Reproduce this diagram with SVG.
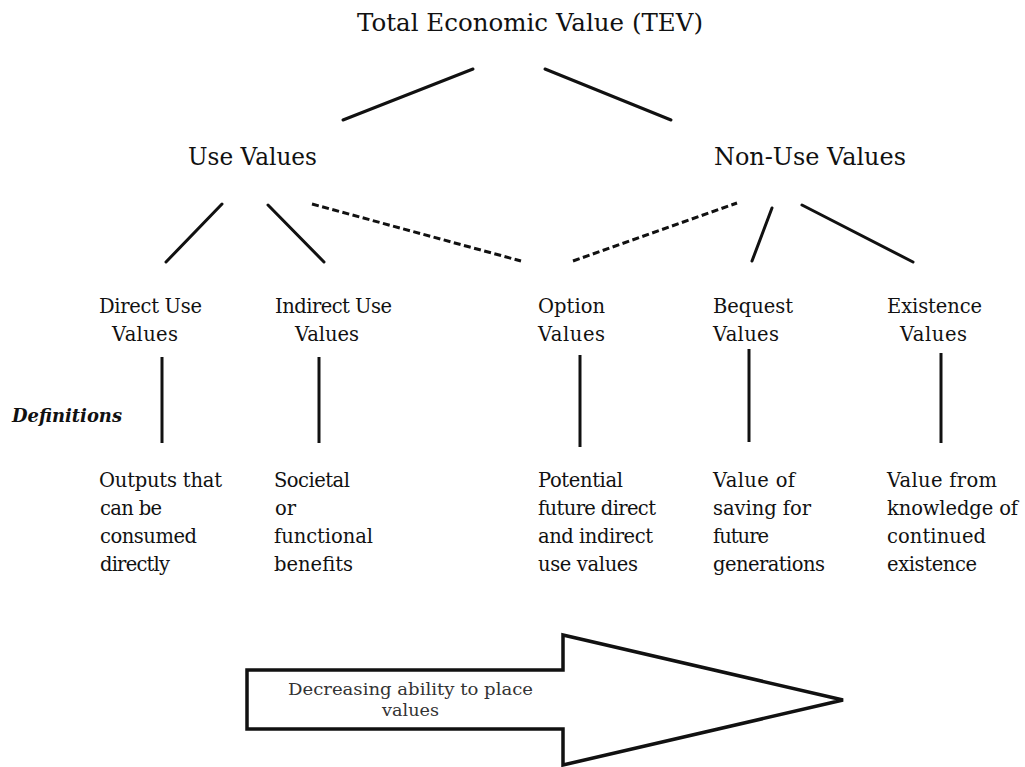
<svg xmlns="http://www.w3.org/2000/svg" width="1025" height="767" viewBox="0 0 1025 767">
  <style>
    text { font-family: "DejaVu Serif", "Liberation Serif", serif; fill: #111; }
    .big { font-size: 25px; }
    .mid { font-size: 19.5px; }
    .def { font-size: 19px; font-weight: bold; font-style: italic; }
    .note { font-size: 17.5px; fill: #333; }
    .solid { stroke: #111; stroke-width: 3; stroke-linecap: round; fill: none; }
    .dash { stroke: #111; stroke-width: 3; stroke-dasharray: 7 3.5; fill: none; }
    .stem { stroke: #111; stroke-width: 3; fill: none; }
  </style>

  <rect x="0" y="0" width="1025" height="767" fill="#ffffff"/>

  <!-- tree connectors -->
  <g id="connectors">
    <line class="solid" x1="343" y1="120" x2="473" y2="69"/>
    <line class="solid" x1="545" y1="69" x2="671" y2="120"/>
    <line class="solid" x1="166" y1="262" x2="222" y2="204"/>
    <line class="solid" x1="268" y1="205" x2="324" y2="262"/>
    <line class="dash" x1="312" y1="204" x2="521" y2="261"/>
    <line class="dash" x1="573" y1="261" x2="737" y2="203"/>
    <line class="solid" x1="752" y1="261" x2="772" y2="208"/>
    <line class="solid" x1="802" y1="205" x2="913" y2="262"/>
    <line class="stem" x1="162" y1="357" x2="162" y2="443"/>
    <line class="stem" x1="319" y1="357" x2="319" y2="443"/>
    <line class="stem" x1="580" y1="355" x2="580" y2="447"/>
    <line class="stem" x1="749" y1="349" x2="749" y2="442"/>
    <line class="stem" x1="941" y1="353" x2="941" y2="443"/>
  </g>

  <g id="tev">
    <text class="big" x="357" y="31" textLength="346" lengthAdjust="spacingAndGlyphs">Total Economic Value (TEV)</text>
  </g>

  <g id="use-values">
    <text class="big" x="188" y="165" textLength="129" lengthAdjust="spacingAndGlyphs">Use Values</text>
  </g>

  <g id="non-use-values">
    <text class="big" x="714" y="165" textLength="192" lengthAdjust="spacingAndGlyphs">Non-Use Values</text>
  </g>

  <g id="definitions-label">
    <text class="def" x="12" y="422" textLength="110" lengthAdjust="spacingAndGlyphs">Definitions</text>
  </g>

  <g id="direct-use">
    <text class="mid" x="99" y="313" textLength="103" lengthAdjust="spacing">Direct Use</text>
    <text class="mid" x="112" y="341" textLength="66" lengthAdjust="spacing">Values</text>
    <text class="mid" x="99" y="487" textLength="123" lengthAdjust="spacing">Outputs that</text>
    <text class="mid" x="100" y="515" textLength="62" lengthAdjust="spacing">can be</text>
    <text class="mid" x="100" y="543" textLength="97" lengthAdjust="spacing">consumed</text>
    <text class="mid" x="100" y="571" textLength="70" lengthAdjust="spacing">directly</text>
  </g>

  <g id="indirect-use">
    <text class="mid" x="275" y="313" textLength="117" lengthAdjust="spacing">Indirect Use</text>
    <text class="mid" x="295" y="341" textLength="64" lengthAdjust="spacing">Values</text>
    <text class="mid" x="274" y="487" textLength="76" lengthAdjust="spacing">Societal</text>
    <text class="mid" x="275" y="515">or</text>
    <text class="mid" x="274" y="543" textLength="99" lengthAdjust="spacing">functional</text>
    <text class="mid" x="274" y="571" textLength="79" lengthAdjust="spacing">benefits</text>
  </g>

  <g id="option">
    <text class="mid" x="538" y="313" textLength="67" lengthAdjust="spacing">Option</text>
    <text class="mid" x="538" y="341" textLength="67" lengthAdjust="spacing">Values</text>
    <text class="mid" x="538" y="487" textLength="85" lengthAdjust="spacing">Potential</text>
    <text class="mid" x="538" y="515" textLength="118" lengthAdjust="spacing">future direct</text>
    <text class="mid" x="538" y="543" textLength="115" lengthAdjust="spacing">and indirect</text>
    <text class="mid" x="538" y="571" textLength="100" lengthAdjust="spacing">use values</text>
  </g>

  <g id="bequest">
    <text class="mid" x="713" y="313" textLength="80" lengthAdjust="spacing">Bequest</text>
    <text class="mid" x="713" y="341" textLength="66" lengthAdjust="spacing">Values</text>
    <text class="mid" x="713" y="487" textLength="82" lengthAdjust="spacing">Value of</text>
    <text class="mid" x="713" y="515" textLength="98" lengthAdjust="spacing">saving for</text>
    <text class="mid" x="713" y="543" textLength="56" lengthAdjust="spacing">future</text>
    <text class="mid" x="713" y="571" textLength="112" lengthAdjust="spacing">generations</text>
  </g>

  <g id="existence">
    <text class="mid" x="887" y="313" textLength="95" lengthAdjust="spacing">Existence</text>
    <text class="mid" x="900" y="341" textLength="67" lengthAdjust="spacing">Values</text>
    <text class="mid" x="887" y="487" textLength="110" lengthAdjust="spacing">Value from</text>
    <text class="mid" x="887" y="515" textLength="131" lengthAdjust="spacing">knowledge of</text>
    <text class="mid" x="887" y="543" textLength="99" lengthAdjust="spacing">continued</text>
    <text class="mid" x="887" y="571" textLength="90" lengthAdjust="spacing">existence</text>
  </g>

  <!-- block arrow along the bottom -->
  <g id="ability-arrow">
    <polygon points="247,670 563,670 563,635 843,700 563,765 563,729 247,729" fill="#ffffff" stroke="#111" stroke-width="3.5" stroke-linejoin="miter"/>
    <text class="note" x="288" y="695" textLength="245" lengthAdjust="spacingAndGlyphs">Decreasing ability to place</text>
    <text class="note" x="382" y="716" textLength="57" lengthAdjust="spacingAndGlyphs">values</text>
  </g>
</svg>
